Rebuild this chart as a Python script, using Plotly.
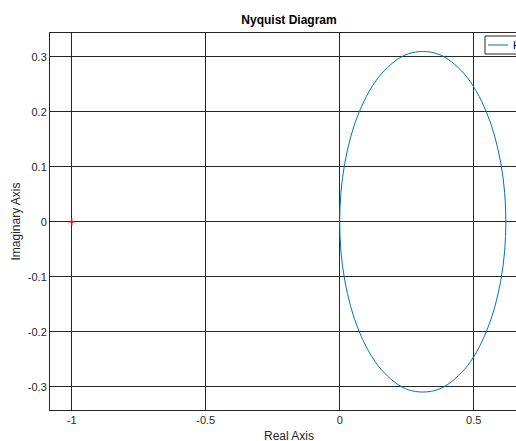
import plotly.graph_objects as go

# Nyquist curve points (negative then positive frequencies)
re_neg = [0.0, 0.0187, 0.0725, 0.155, 0.2562, 0.3638, 0.465, 0.5475, 0.6013, 0.62]
im_neg = [0.0, 0.106, 0.1993, 0.2685, 0.3053, 0.3053, 0.2685, 0.1993, 0.106, 0.0]
re_pos = [0.62, 0.6013, 0.5475, 0.465, 0.3638, 0.2562, 0.155, 0.0725, 0.0187, 0.0]
im_pos = [0.0, -0.106, -0.1993, -0.2685, -0.3053, -0.3053, -0.2685, -0.1993, -0.106, 0.0]

crit_re = [-1]
crit_im = [0]

x_ticks = [-1, -0.5, 0, 0.5]
x_labels = ["-1", "-0.5", "0", "0.5"]
y_ticks = [0.3, 0.2, 0.1, 0, -0.1, -0.2, -0.3]
y_labels = ["0.3", "0.2", "0.1", "0", "-0.1", "-0.2", "-0.3"]

series_name = "H"

blue = "#0072BD"
axc = "#262626"

W, H = 516, 441
L, R, T, B = 50, 0, 33, 31
pw = W - L - R
ph = H - T - B
center_px = 289  # horizontal centre of the (cropped) axes box in the reference


def px_x(p):
    return (p - L) / pw


def px_y(p):
    return 1 - (p - T) / ph


fig = go.Figure()
fig.add_trace(go.Scatter(x=re_neg + re_pos[1:], y=im_neg + im_pos[1:], mode="lines",
                         line=dict(color=blue, width=1, shape="spline", smoothing=1.0),
                         name=series_name, showlegend=False))
fig.add_trace(go.Scatter(x=crit_re, y=crit_im, mode="markers",
                         marker=dict(symbol="cross-thin", size=5, line=dict(color="red", width=1.5)),
                         showlegend=False))

# legend box (cropped at the right edge, as in the reference)
shapes = [
    dict(type="rect", xref="paper", yref="paper", x0=px_x(485), x1=px_x(560),
         y0=px_y(54), y1=px_y(36), line=dict(color=axc, width=1), fillcolor="white", layer="above"),
    dict(type="line", xref="paper", yref="paper", x0=px_x(488), x1=px_x(508),
         y0=px_y(45), y1=px_y(45), line=dict(color=blue, width=1), layer="above"),
]

fig.update_layout(
    width=W, height=H,
    margin=dict(l=L, r=R, t=T, b=B, pad=0, autoexpand=False),
    paper_bgcolor="white", plot_bgcolor="white",
    font=dict(family="Liberation Sans, Arial, sans-serif", size=11, color=axc),
    title=dict(text="<b>Nyquist Diagram</b>", x=px_x(center_px), xref="paper",
               xanchor="center", y=1 - 20 / H, yanchor="middle",
               font=dict(size=12, color="black")),
    showlegend=False,
    shapes=shapes,
    xaxis=dict(range=[-1.081, -1.081 + pw / 268.0], tickvals=x_ticks, ticktext=x_labels,
               showgrid=True, gridcolor=axc, gridwidth=1, zeroline=False,
               showline=True, linecolor=axc, linewidth=1, mirror=True, ticks="",
               tickfont=dict(size=11)),
    yaxis=dict(range=[-0.342, 0.343], tickvals=y_ticks, ticktext=y_labels,
               showgrid=True, gridcolor=axc, gridwidth=1, zeroline=False,
               showline=True, linecolor=axc, linewidth=1, mirror=True, ticks="",
               title=dict(text="Imaginary Axis", standoff=4, font=dict(size=12)),
               tickfont=dict(size=11)),
    annotations=[
        dict(text="Real Axis", xref="paper", yref="paper",
             x=px_x(center_px), y=-(436 - (H - B)) / ph,
             xanchor="center", yanchor="middle", showarrow=False,
             font=dict(size=12, color=axc)),
        dict(text=series_name, xref="paper", yref="paper",
             x=px_x(511), y=px_y(45), xanchor="left", yanchor="middle",
             showarrow=False, font=dict(size=11, color="black")),
    ],
)

fig.write_html("out.html", config={"displayModeBar": False},
               post_script="document.body.style.margin='0';document.body.style.overflow='hidden';document.documentElement.style.overflow='hidden';")
